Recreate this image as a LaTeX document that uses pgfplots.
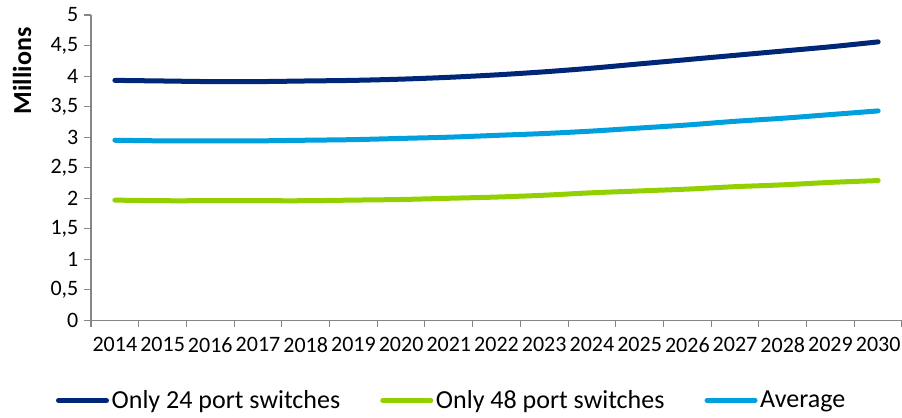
\documentclass[border=0pt]{standalone}
\usepackage{fontspec}
\setmainfont{Carlito}
\usepackage{pgfplots}
\pgfplotsset{compat=1.18}
\definecolor{navy}{RGB}{0,38,119}
\definecolor{lgreen}{RGB}{146,208,0}
\definecolor{lblue}{RGB}{0,160,223}
\definecolor{axgray}{RGB}{134,134,134}
\begin{document}
\begin{tikzpicture}
\begin{axis}[
  name=ax,
  scale only axis,
  width=608pt, height=229pt,
  xmin=-0.5, xmax=16.5, ymin=0, ymax=5,
  axis lines=left,
  axis line style={-, draw=axgray, line width=0.8pt},
  tick align=outside,
  xtick={0,...,16},
  xticklabels={2014,2015,2016,2017,2018,2019,2020,2021,2022,2023,2024,2025,2026,2027,2028,2029,2030},
  x tick style={draw=none},
  minor xtick={-0.5,0.5,...,16.5},
  minor x tick style={draw=axgray, line width=0.8pt},
  minor tick length=5pt,
  ytick={0,0.5,...,5},
  y tick style={draw=axgray, line width=0.8pt},
  major tick length=5pt,
  /pgf/number format/assume math mode=true,
  /pgf/number format/use comma,
  /pgf/number format/1000 sep={},
  ticklabel style={font=\fontsize{16.5}{18}\selectfont, text=black},
  xticklabel style={yshift=-4pt},
  yticklabel style={xshift=-1pt},
  ylabel={Millions},
  ylabel style={at={(axis description cs:-0.085,0.974)}, anchor=east, font=\fontsize{19.5}{21}\selectfont\bfseries},
  legend columns=3,
  legend style={at={(axis description cs:0.445,-0.262)}, anchor=center, draw=none, fill=none,
    font=\fontsize{19.5}{21}\selectfont,
    /tikz/every even column/.append style={column sep=28pt}},
  legend image code/.code={\draw[line width=3.75pt, line cap=round] (2pt,0pt) -- (38pt,0pt);},
  every axis plot/.append style={line width=3.75pt, line cap=round, smooth},
  clip=false,
]
\addplot[navy] coordinates {(0,3.93)(1,3.92)(2,3.91)(3,3.91)(4,3.92)(5,3.93)(6,3.95)(7,3.98)(8,4.02)(9,4.07)(10,4.13)(11,4.20)(12,4.27)(13,4.34)(14,4.41)(15,4.48)(16,4.56)};
\addlegendentry{Only 24 port switches}
\addplot[lgreen] coordinates {(0,1.97)(1,1.96)(2,1.96)(3,1.96)(4,1.96)(5,1.97)(6,1.98)(7,2.00)(8,2.02)(9,2.05)(10,2.09)(11,2.12)(12,2.15)(13,2.19)(14,2.22)(15,2.26)(16,2.29)};
\addlegendentry{Only 48 port switches}
\addplot[lblue] coordinates {(0,2.95)(1,2.94)(2,2.94)(3,2.94)(4,2.95)(5,2.96)(6,2.98)(7,3.00)(8,3.03)(9,3.06)(10,3.10)(11,3.15)(12,3.20)(13,3.26)(14,3.31)(15,3.37)(16,3.43)};
\addlegendentry{Average}
\end{axis}
\pgfresetboundingbox
\path ([xshift=-68.25pt,yshift=-72.75pt]ax.south west) rectangle ([yshift=11.25pt]ax.north east);
\end{tikzpicture}
\end{document}
